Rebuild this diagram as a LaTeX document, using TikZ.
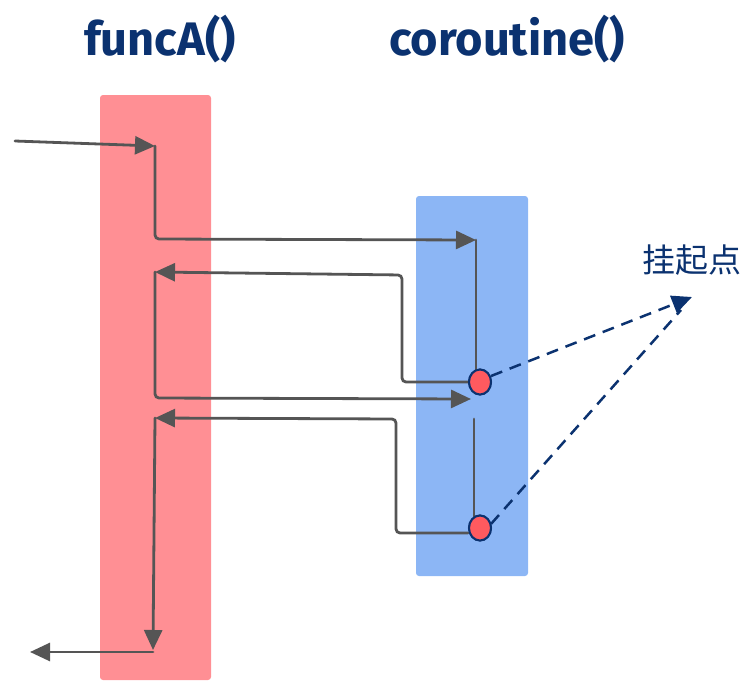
\documentclass[tikz,border=0pt]{standalone}
\usepackage{fontspec}
\setmainfont{Fira Sans}
\newfontfamily\cjk{Noto Sans CJK SC}
\usetikzlibrary{arrows.meta,shapes.geometric}
\definecolor{barred}{HTML}{FF8F94}
\definecolor{barblue}{HTML}{8CB6F5}
\definecolor{flowgray}{HTML}{555555}
\definecolor{navy}{HTML}{0B3270}
\definecolor{dotred}{HTML}{FF5A5F}
\tikzset{
  bar/.style={fill=#1, draw=none, inner sep=0pt, rounded corners=3pt},
  title/.style={text=navy, font=\bfseries\fontsize{47}{50}\selectfont, anchor=base, inner sep=0pt},
  flow/.style={draw=flowgray, line width=2.8pt, rounded corners=4pt, line cap=round},
  flowarrow/.style={flow, -{Triangle[length=20pt,width=18pt]}},
  spot/.style={ellipse, fill=dotred, draw=navy, line width=2pt, minimum width=22pt, minimum height=25pt, inner sep=0pt},
  hint/.style={draw=navy, line width=2.5pt, dash pattern=on 12pt off 8pt},
  label/.style={text=navy, font=\cjk\fontsize{33}{35}\selectfont, anchor=base, inner sep=0pt}
}
\begin{document}
\begin{tikzpicture}[x=1pt,y=-1pt]
\useasboundingbox (0,0) rectangle (748,697);
% bars
\node[bar=barred, minimum width=111pt, minimum height=585pt] (fa) at (155.5,387.5) {};
\node[bar=barblue, minimum width=112pt, minimum height=380pt] (co) at (472,386) {};
% titles
\node[title] (tfa) at (160,55) {funcA()};
\node[title] (tco) at (507,55) {coroutine()};
% suspension points
\node[spot] (s1) at (480,382) {};
\node[spot] (s2) at (480,528) {};
\node[label] (lbl) at (692,272) {挂起点};
% coordinates
\coordinate (in) at (15,141);
\coordinate (a1) at (155,146);
\coordinate (a2) at (476,240);
\coordinate (a3) at (155,272);
\coordinate (a4) at (471,399);
\coordinate (b1) at (474,419);
\coordinate (a5) at (155,418);
\coordinate (a6) at (153,650);
\coordinate (out) at (30,652);
\coordinate (tip) at (692,297);
\coordinate (tip2) at (681,310);
% flow
\draw[flowarrow] (in) -- (a1);
\draw[flowarrow] (a1) -- (155,239) -- (a2);
\draw[flow] (a2) -- (s1.north west -| a2);
\draw[flowarrow] (s1.west) -- (402,382) -- (402,275) -- (a3);
\draw[flowarrow] (a3) -- (155,398) -- (a4);
\draw[flow] (b1) -- (b1 |- s2.north west);
\draw[flowarrow] (s2.west |- 0,533) -- (396,533) -- (396,419) -- (a5);
\draw[flowarrow] (a5) -- (a6);
\draw[flowarrow] (153,652) -- (out);
% hints
\draw[hint, -{Triangle[length=20pt,width=18pt]}] (s1) ++(11,-6) -- (tip);
\draw[hint] (s2) ++(11,-4) -- (tip2);
\node[spot] at (s1) {};
\node[spot] at (s2) {};
\end{tikzpicture}
\end{document}
